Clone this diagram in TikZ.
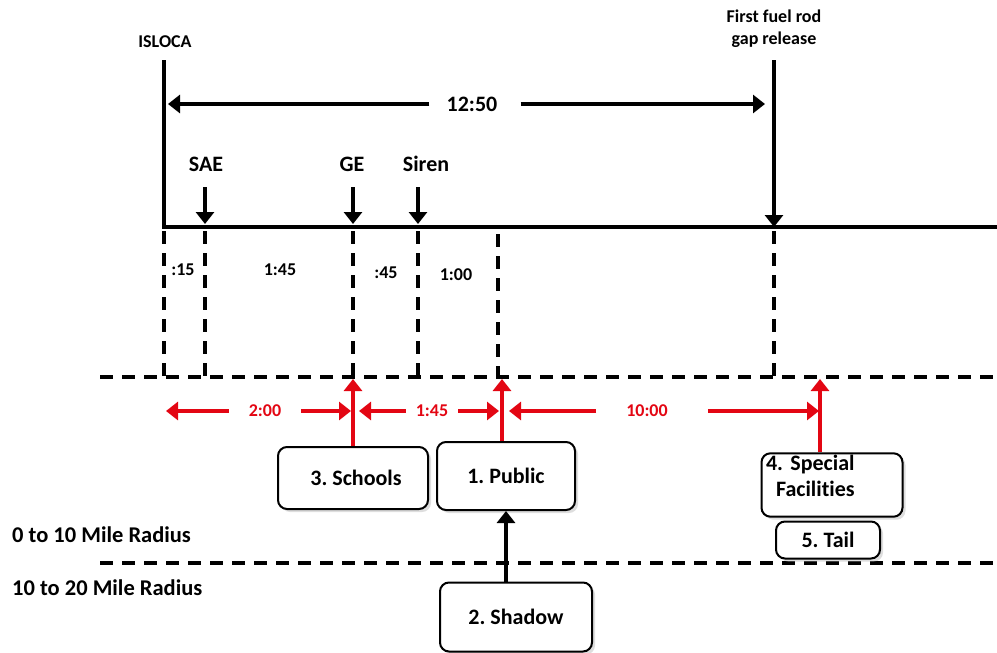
\documentclass[tikz,border=0pt]{standalone}
\usepackage{fontspec}
\setmainfont{Carlito}[Ligatures=NoCommon]
\usepackage{tikz}
\usetikzlibrary{positioning,arrows.meta,shadows}
\frenchspacing
\definecolor{ink}{HTML}{000000}
\definecolor{alarm}{HTML}{E30613}
\definecolor{shade}{HTML}{BDBDBD}
\tikzset{
  axis/.style  = {draw=ink, line width=3.2pt},
  guide/.style = {draw=ink, line width=3.2pt, dash pattern=on 13pt off 9pt},
  tick/.style  = {-{Triangle[length=12pt,width=18pt]}, draw=ink, line width=3.2pt},
  lag/.style   = {-{Triangle[length=12pt,width=18pt]}, draw=alarm, line width=3.2pt},
  evt/.style   = {font=\fontsize{22}{26}\selectfont\bfseries, text=ink, inner sep=0pt},
  lab/.style   = {font=\fontsize{18}{22}\selectfont\bfseries, text=ink, inner sep=0pt, align=center},
  dur/.style   = {font=\fontsize{18}{22}\selectfont\bfseries, text=alarm, inner sep=0pt},
  zone/.style  = {font=\fontsize{22.5}{26}\selectfont\bfseries, text=ink, inner sep=0pt, anchor=west},
  grp/.style   = {draw=ink, line width=2pt, fill=white, rounded corners=9pt,
                  font=\fontsize{22}{26}\selectfont\bfseries, inner sep=4pt,
                  drop shadow={shadow xshift=3pt, shadow yshift=-3pt, fill=shade}},
}

\begin{document}
\begin{tikzpicture}[x=1pt,y=-1pt]
\path[use as bounding box] (0,0) rectangle (997,653);

% ---- top labels and the 12:50 span -------------------------------------
\node[lab] (isloca) at (165,42) {ISLOCA};
\node[lab] (rod) at (774,29) {First fuel rod\\gap release};
\coordinate (start) at (164,60);
\coordinate (rodtop) at (774,60);

\draw[axis] (164,227) -- (997,227);
\draw[axis] (start) -- (164,229);
\draw[tick] (rodtop) -- (774,227);

\node[evt] (span) at (472,104) {12:50};
\draw[tick] ([xshift=-17pt]span.west) -- (168,104);
\draw[tick] ([xshift=23pt]span.east) -- (765,104);

% ---- declarations on the line ------------------------------------------
\foreach \x/\lx/\name in {205/206/SAE, 353/352/GE, 418/426/Siren} {
  \node[evt] (e\name) at (\lx,164) {\name};
  \draw[tick] (\x,187) -- (\x,224);
}

% dashed drops and the gaps between them
\foreach \x in {164,205,353,418,774}
  \draw[guide] (\x,231) -- (\x,377);
\draw[guide] (498,234) -- (498,377);

\node[lab] (g1) at (183,270) {:15};
\node[lab] (g2) at (280,270) {1:45};
\node[lab] (g3) at (386,273) {:45};
\node[lab] (g4) at (456,275) {1:00};

\draw[guide] (100,377) -- (997,377);
\draw[guide] (100,563) -- (997,563);

% ---- evacuation groups -------------------------------------------------
\node[grp, minimum width=150pt, minimum height=62pt] (schools) at (353,478) {\hspace*{6pt}3. Schools};
\node[grp, minimum width=138pt, minimum height=68pt] (public) at (506,476) {1. Public};
\node[grp, minimum width=152pt, minimum height=69pt] (shadow) at (516,617) {2. Shadow};
\node[grp, minimum width=141pt, minimum height=60pt, text width=132pt, align=left,
      inner sep=2pt] (special) at (832,485) {4. Special\\\hspace*{10pt}Facilities\\[-8pt]\mbox{}};
\node[grp, minimum width=104pt, minimum height=37pt] (tail) at (828,540) {5. Tail};

\draw[tick] (shadow.north -| public.south) -- (public.south);

% ---- red lags ----------------------------------------------------------
\node[dur] (d1) at (265,411) {2:00};
\node[dur] (d2) at (432,411) {1:45};
\node[dur] (d3) at (647,411) {10:00};
\draw[lag] ([xshift=-20pt]d1.west) -- (166,411);
\draw[lag] ([xshift=20pt]d1.east) -- (351,411);
\draw[lag] ([xshift=-10pt]d2.west) -- (359,411);
\draw[lag] ([xshift=10pt]d2.east) -- (499,411);
\draw[lag] ([xshift=-30pt]d3.west) -- (509,411);
\draw[lag] ([xshift=40pt]d3.east) -- (819,411);

\draw[lag] (schools.north) -- (353,379);
\draw[lag] ([xshift=-4pt]public.north) -- (502,379);
\draw[lag] ([xshift=-12pt]special.north) -- (820,379);

% ---- radius bands ------------------------------------------------------
\node[zone] (inner) at (12,535) {0 to 10 Mile Radius};
\node[zone] (outer) at (12,588) {10 to 20 Mile Radius};

\end{tikzpicture}
\end{document}
